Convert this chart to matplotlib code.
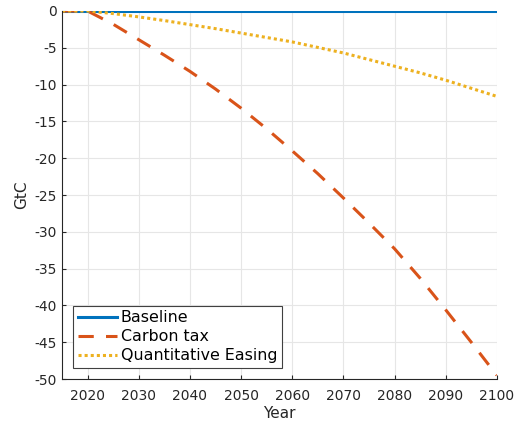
import matplotlib
matplotlib.use("Agg")
import matplotlib.pyplot as plt

years = [2015, 2020, 2025, 2030, 2035, 2040, 2045, 2050, 2055, 2060,
         2065, 2070, 2075, 2080, 2085, 2090, 2095, 2100]
baseline = [0] * len(years)
carbon_tax = [0, 0, -1.8, -3.9, -6.0, -8.2, -10.6, -13.2, -16.0, -19.0,
              -22.1, -25.4, -28.8, -32.3, -36.3, -40.6, -45.0, -49.5]
qe = [0, 0, -0.35, -0.8, -1.3, -1.85, -2.4, -3.0, -3.6, -4.2,
      -4.95, -5.7, -6.6, -7.5, -8.4, -9.4, -10.5, -11.6]

plt.rcParams['font.family'] = ['DejaVu Sans']
plt.rcParams['axes.unicode_minus'] = False

fig = plt.figure(figsize=(5.17, 4.23), dpi=100)
ax = fig.add_axes([0.12, 0.104, 0.841, 0.87])

ax.plot(years, baseline, color='#0072BD', lw=2.2, label='Baseline')
ax.plot(years, carbon_tax, color='#D95319', lw=2.2, ls=(0, (5, 4)), label='Carbon tax')
ax.plot(years, qe, color='#EDB120', lw=2.2, ls=(0, (1, 1)), label='Quantitative Easing')

ax.set_xlim(2015, 2100)
ax.set_ylim(-50, 0)
ax.set_xticks(range(2020, 2101, 10))
ax.set_yticks(range(-50, 1, 5))
ax.grid(True, color='#e6e6e6', lw=0.8)
ax.set_axisbelow(True)
ax.spines['top'].set_visible(False)
ax.spines['right'].set_visible(False)
for s in ('left', 'bottom'):
    ax.spines[s].set_color('#262626')
ax.tick_params(direction='in', colors='#262626', labelsize=10, length=3)
ax.tick_params(axis='x', pad=7)
ax.set_xlabel('Year', fontsize=11, color='#262626', labelpad=2)
ax.set_ylabel('GtC', fontsize=11, color='#262626')

leg = ax.legend(loc='lower left', fontsize=11.4, fancybox=False, framealpha=1,
                edgecolor='#404040', borderpad=0.3, labelspacing=0.25,
                handlelength=2.5, handletextpad=0.2, borderaxespad=0.7)
leg.get_frame().set_linewidth(0.8)

fig.savefig('out.png', dpi=100)
